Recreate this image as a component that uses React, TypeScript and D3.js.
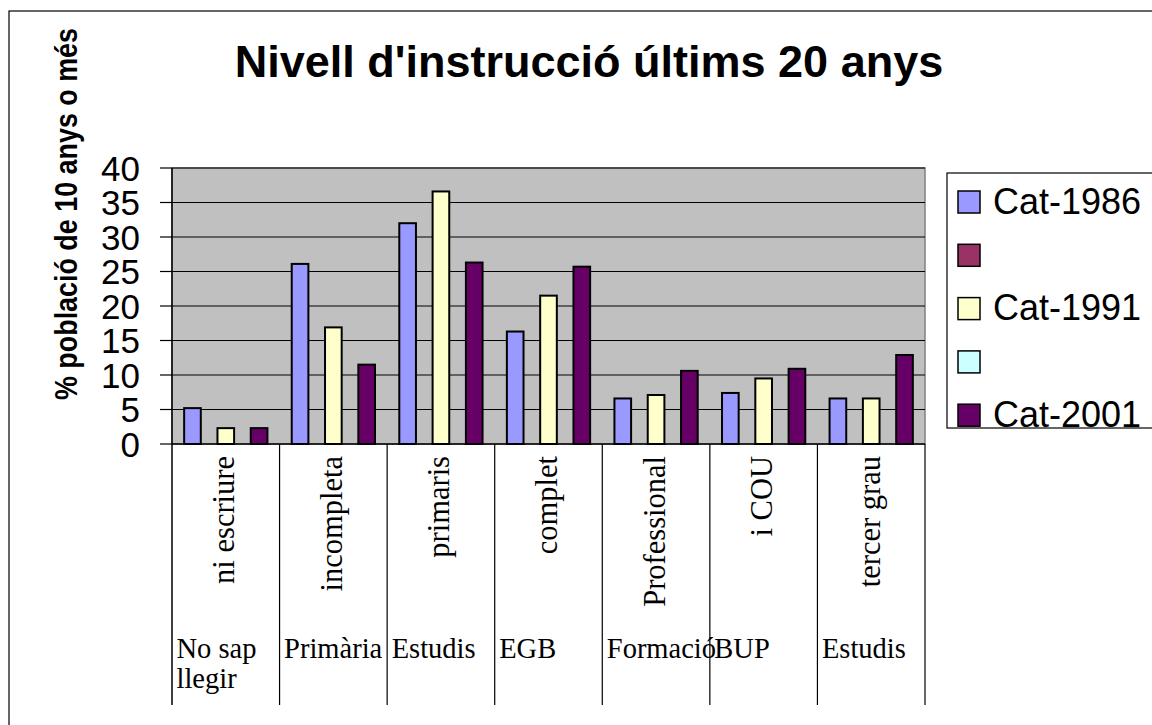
import React from "react";
import * as d3 from "d3";

const categoriesOuter = ["No sap llegir", "Primària", "Estudis", "EGB", "Formació", "BUP", "Estudis"];
const categoriesInner = ["ni escriure", "incompleta", "primaris", "complet", "Professional", "i COU", "tercer grau"];
const seriesNames = ["Cat-1986", "", "Cat-1991", "", "Cat-2001"];
const seriesColors = ["#9999FF", "#993366", "#FFFFCC", "#CCFFFF", "#660066"];
const cat1986 = [5.2, 26.1, 32.0, 16.3, 6.6, 7.4, 6.6];
const cat1991 = [2.3, 16.9, 36.6, 21.5, 7.1, 9.5, 6.6];
const cat2001 = [2.3, 11.5, 26.3, 25.7, 10.6, 10.9, 12.9];
const emptySeries: (number | null)[] = [null, null, null, null, null, null, null];
const yTicks = [0, 5, 10, 15, 20, 25, 30, 35, 40];
const title = "Nivell d'instrucció últims 20 anys";
const yTitle = "% població de 10 anys o més";

const seriesValues: (number | null)[][] = [cat1986, emptySeries, cat1991, emptySeries, cat2001];

const SANS = "'Liberation Sans', Arial, sans-serif";
const SERIF = "'Liberation Serif', 'Times New Roman', serif";

function wrapLabel(text: string, maxW: number, font: string): string[] {
  const c = document.createElement("canvas").getContext("2d");
  if (!c) return [text];
  c.font = font;
  const words = text.split(" ");
  const lines: string[] = [];
  let cur = "";
  for (const w of words) {
    const t = cur ? cur + " " + w : w;
    if (cur && c.measureText(t).width > maxW) {
      lines.push(cur);
      cur = w;
    } else cur = t;
  }
  if (cur) lines.push(cur);
  return lines;
}

export default function App() {
  const W = 1152, H = 725;
  const plot = { left: 172, right: 925, top: 168, bottom: 444 };
  const axisBottom = 705;

  const x0 = d3.scaleBand<number>().domain(d3.range(categoriesOuter.length)).range([plot.left, plot.right]).paddingInner(0).paddingOuter(0);
  const gap = x0.bandwidth() * 0.226;
  const x1 = d3.scaleBand<number>().domain(d3.range(seriesNames.length)).range([gap / 2, x0.bandwidth() - gap / 2]).padding(0);
  const y = d3.scaleLinear().domain([0, 40]).range([plot.bottom, plot.top]);

  const outerFontSize = 28.5;
  const innerFontSize = 30.5;

  return (
    <svg width={W} height={H} style={{ position: "absolute", left: 0, top: 0, background: "#fff" }}>
      <rect x={9} y={11} width={W} height={H} fill="#fff" stroke="#000" strokeWidth={1.2} />
      <text x={589} y={77} textAnchor="middle" fontFamily={SANS} fontWeight="bold" fontSize={45}>{title}</text>

      <text transform={`translate(77,214) rotate(-90)`} textAnchor="middle" fontFamily={SANS} fontWeight="bold" fontSize={31} textLength={372} lengthAdjust="spacingAndGlyphs">{yTitle}</text>

      <rect x={plot.left} y={plot.top} width={plot.right - plot.left} height={plot.bottom - plot.top} fill="#C0C0C0" stroke="#808080" strokeWidth={1.5} />
      {yTicks.map((t) => (
        <g key={t}>
          {t > 0 && <line x1={plot.left} x2={plot.right} y1={y(t)} y2={y(t)} stroke="#000" strokeWidth={1.2} />}
          <line x1={plot.left - 12} x2={plot.left} y1={y(t)} y2={y(t)} stroke="#000" strokeWidth={1.2} />
          <text x={140} y={y(t) + 12.5} textAnchor="end" fontFamily={SANS} fontSize={35}>{t}</text>
        </g>
      ))}

      {seriesValues.map((vals, si) =>
        vals.map((v, ci) =>
          v == null ? null : (
            <rect key={`${si}-${ci}`} x={(x0(ci) as number) + (x1(si) as number)} y={y(v)} width={x1.bandwidth()} height={y(0) - y(v)} fill={seriesColors[si]} stroke="#000" strokeWidth={2} />
          )
        )
      )}

      <line x1={plot.left} x2={plot.right} y1={plot.bottom} y2={plot.bottom} stroke="#000" strokeWidth={1.5} />
      <line x1={plot.left} x2={plot.left} y1={plot.top} y2={axisBottom} stroke="#000" strokeWidth={1.5} />
      {categoriesOuter.map((_, ci) => (
        <line key={ci} x1={(x0(ci) as number) + x0.bandwidth()} x2={(x0(ci) as number) + x0.bandwidth()} y1={plot.bottom} y2={axisBottom} stroke="#000" strokeWidth={1.2} />
      ))}

      {categoriesInner.map((lab, ci) => {
        const cx = (x0(ci) as number) + x0.bandwidth() / 2;
        return (
          <text key={ci} transform={`translate(${cx + 8.5},456) rotate(-90)`} textAnchor="end" fontFamily={SERIF} fontSize={innerFontSize}>{lab}</text>
        );
      })}
      {categoriesOuter.map((lab, ci) => {
        const lines = wrapLabel(lab, x0.bandwidth() - 6, `${outerFontSize}px ${SERIF}`);
        return (
          <text key={ci} x={(x0(ci) as number) + 4.5} y={658} fontFamily={SERIF} fontSize={outerFontSize}>
            {lines.map((l, i) => (
              <tspan key={i} x={(x0(ci) as number) + 4.5} dy={i === 0 ? 0 : 30}>{l}</tspan>
            ))}
          </text>
        );
      })}

      <rect x={947} y={173} width={300} height={255} fill="#fff" stroke="#000" strokeWidth={1.2} />
      {seriesNames.map((n, i) => {
        const ty = 191 + i * 53.3;
        return (
          <g key={i}>
            <rect x={958} y={ty} width={22} height={22} fill={seriesColors[i]} stroke="#000" strokeWidth={1.5} />
            <text x={993} y={ty + 22.5} fontFamily={SANS} fontSize={36}>{n}</text>
          </g>
        );
      })}
    </svg>
  );
}
